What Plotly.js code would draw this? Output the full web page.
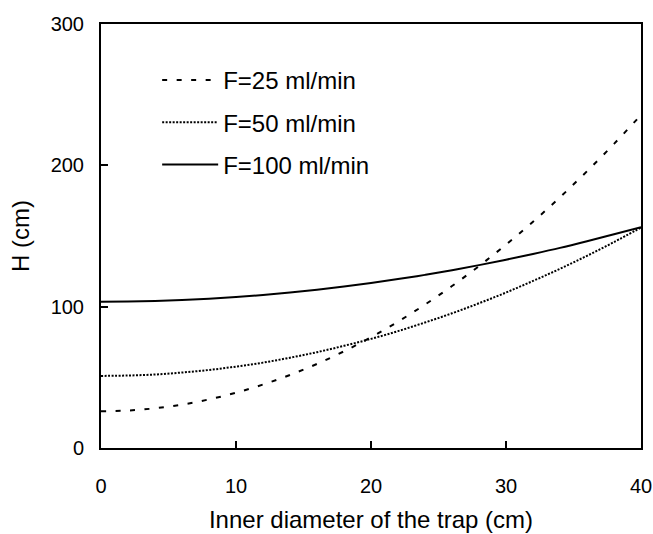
<!DOCTYPE html>
<html>
<head>
<meta charset="utf-8">
<script src="https://cdn.plot.ly/plotly-3.0.1.min.js"></script>
<style>html,body{margin:0;padding:0;background:#fff;}</style>
</head>
<body>
<div id="chart" style="width:653px;height:534px;"></div>
<script>
var diameter = [0,2,4,6,8,10,12,14,16,18,20,22,24,26,28,30,32,34,36,38,40];
var h25  = [26,26.5,28.1,30.7,34.4,39.1,44.9,51.7,59.5,68.4,78.4,89.4,101.5,114.6,128.7,143.9,160.1,177.4,195.8,215.2,235.6];
var h50  = [51,51.3,52,53.4,55.2,57.6,60.4,63.9,67.8,72.3,77.2,82.7,88.8,95.3,102.4,110,118.2,126.8,136,145.7,156];
var h100 = [103.5,103.6,104,104.7,105.6,106.8,108.3,110,112,114.2,116.7,119.5,122.5,125.8,129.4,133.2,137.3,141.6,146.3,151.2,156.3];
var names = ["F=25 ml/min","F=50 ml/min","F=100 ml/min"];
var xTicks = [0,10,20,30,40];
var yTicks = [0,100,200,300];

var font = "Liberation Sans, Arial, sans-serif";
var traces = [
  {x: diameter, y: h25, name: names[0], mode: "lines", line: {color: "#000", width: 2, dash: "5px,9.5px", shape: "spline"}, legendgroup: "a"},
  {x: diameter, y: h50, name: names[1], mode: "lines", line: {color: "#000", width: 2, dash: "2px,1.5px", shape: "spline"}, legendgroup: "b"},
  {x: diameter, y: h100, name: names[2], mode: "lines", line: {color: "#000", width: 2, shape: "spline"}, legendgroup: "c"}
];
var layout = {
  width: 653, height: 534,
  margin: {l: 101, r: 12, t: 24, b: 86},
  paper_bgcolor: "#fff", plot_bgcolor: "#fff",
  font: {family: font, color: "#000", size: 20},
  showlegend: true,
  legend: {x: 0.104, y: 0.92, xanchor: "left", yanchor: "top", bgcolor: "rgba(0,0,0,0)",
           font: {family: font, size: 24, color: "#000"}, tracegroupgap: 8, itemwidth: 56},
  xaxis: {range: [0, 40], tickvals: xTicks, ticktext: xTicks.map(String), ticks: "inside", ticklen: 7, tickwidth: 2,
          tickcolor: "#000", showline: true, linewidth: 2, linecolor: "#000", mirror: true, showgrid: false, zeroline: false,
          ticklabelstandoff: 19,
          tickfont: {size: 20}, title: {text: "Inner diameter of the trap (cm)", font: {size: 24}, standoff: 15}},
  yaxis: {range: [0, 300], tickvals: yTicks, ticktext: yTicks.map(String), ticks: "inside", ticklen: 7, tickwidth: 2,
          tickcolor: "#000", showline: true, linewidth: 2, linecolor: "#000", mirror: true, showgrid: false, zeroline: false,
          ticklabelstandoff: 11,
          tickfont: {size: 20}, title: {text: "H (cm)", font: {size: 24}, standoff: 14}}
};
Plotly.newPlot("chart", traces, layout, {displayModeBar: false, staticPlot: true});
</script>
</body>
</html>
